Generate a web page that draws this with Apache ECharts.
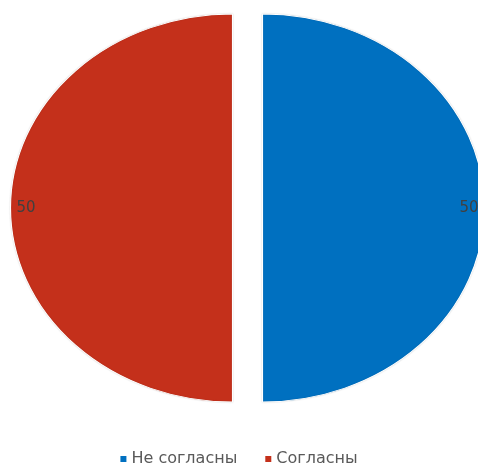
<!DOCTYPE html>
<html>
<head>
<meta charset="utf-8">
<script src="https://cdn.jsdelivr.net/npm/echarts@6/dist/echarts.min.js"></script>
<style>
  html, body { margin: 0; padding: 0; background: #fff; }
  #chart { width: 478px; height: 465px; }
</style>
</head>
<body>
<div id="chart"></div>
<script>
// Survey answers: two slices of an oval pie
const categories = ['Не согласны', 'Согласны'];
const values = [50, 50];
const colors = ['#0070C0', '#C4301B'];

const total = values.reduce((a, b) => a + b, 0);

// Draws one exploded oval slice plus its "inside end" value label
function makeRenderItem(index) {
  return function (params, api) {
    const value = api.value(0);
    let before = 0;
    for (let i = 0; i < index; i++) before += values[i];
    const start = -Math.PI / 2 + (before / total) * Math.PI * 2;
    const end = start + (value / total) * Math.PI * 2;
    const mid = (start + end) / 2;

    const cx = 247.5, cy = 208;
    const rx = 222, ry = 194;
    const explode = 15;
    const ox = cx + Math.cos(mid) * explode;
    const oy = cy + Math.sin(mid) * explode;

    const pad = 6;
    const lx = ox + Math.cos(mid) * (rx - pad);
    const ly = oy + Math.sin(mid) * (ry - pad);

    return {
      type: 'group',
      children: [
        {
          type: 'sector',
          x: ox,
          y: oy,
          scaleX: rx / ry,
          scaleY: 1,
          shape: { cx: 0, cy: 0, r0: 0, r: ry, startAngle: start, endAngle: end, clockwise: true },
          style: {
            fill: colors[index],
            stroke: '#ffffff',
            lineWidth: 1,
            shadowBlur: 1.5,
            shadowColor: 'rgba(0,0,0,0.15)'
          }
        },
        {
          type: 'text',
          x: lx,
          y: ly,
          style: {
            text: String(value),
            fill: '#404040',
            font: '15px "DejaVu Sans", sans-serif',
            align: Math.cos(mid) > 0 ? 'right' : 'left',
            verticalAlign: 'middle'
          }
        }
      ]
    };
  };
}

const chart = echarts.init(document.getElementById('chart'), null, { renderer: 'canvas' });

chart.setOption({
  animation: false,
  backgroundColor: '#ffffff',
  legend: {
    data: categories,
    left: 'center',
    top: 451,
    padding: 0,
    icon: 'rect',
    itemWidth: 6,
    itemHeight: 6,
    itemGap: 28,
    textStyle: { fontSize: 16, color: '#595959', fontFamily: 'DejaVu Sans' }
  },
  series: categories.map((name, i) => ({
    type: 'custom',
    name: name,
    coordinateSystem: 'none',
    itemStyle: { color: colors[i] },
    data: [[values[i]]],
    renderItem: makeRenderItem(i)
  }))
});
</script>
</body>
</html>
